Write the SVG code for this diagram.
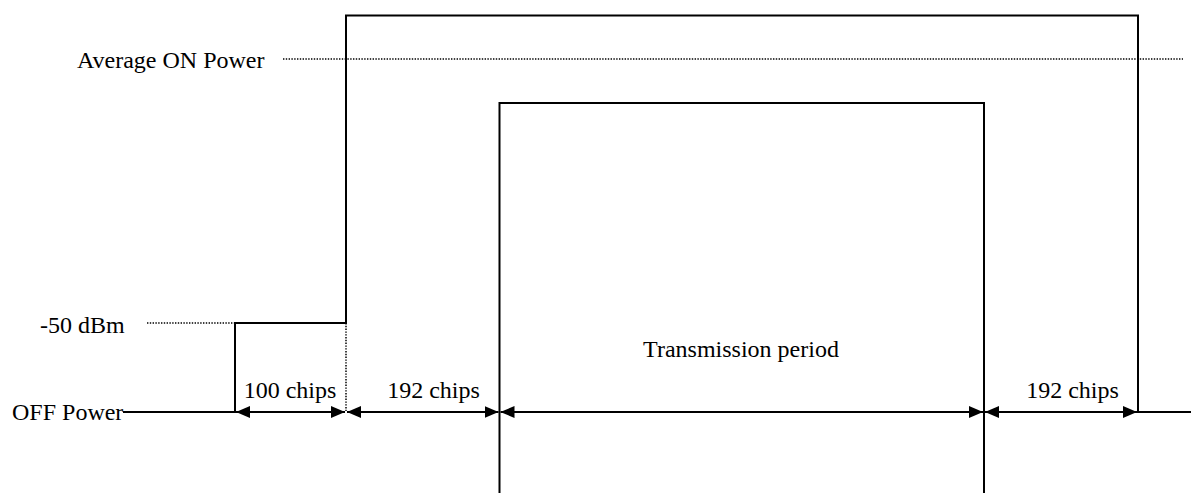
<svg xmlns="http://www.w3.org/2000/svg" width="1191" height="493" viewBox="0 0 1191 493">
<defs>
<style>
.ln{fill:none;stroke:#000;stroke-width:2}
.dot{fill:none;stroke:#000;stroke-width:1.5;stroke-dasharray:1.4 1.4}
.dim{fill:none;stroke:#000;stroke-width:2}
text{font-family:"Liberation Serif","Times New Roman",serif;font-size:24px;fill:#000}
</style>
<marker id="ah" viewBox="0 0 14 12" refX="14" refY="6" markerWidth="14" markerHeight="12" markerUnits="userSpaceOnUse" orient="auto-start-reverse">
<path d="M0,0 L14,6 L0,12 Z" fill="#000"/>
</marker>
</defs>
<rect width="1191" height="493" fill="#fff"/>
<g id="signal">
<path class="ln" d="M123,412 H235 V323 H346 V15.5 H1138 V412 H1191"/>
</g>
<g id="transmission-box">
<path class="ln" d="M499.5,493 V103 H984 V493"/>
</g>
<g id="reference-lines">
<line class="dot" x1="283" y1="59" x2="1183" y2="59"/>
<line class="dot" x1="147" y1="323" x2="235" y2="323"/>
<line class="dot" x1="346" y1="323" x2="346" y2="411"/>
</g>
<g id="labels">
<text x="77" y="68">Average ON Power</text>
<text x="40" y="333">-50 dBm</text>
<text x="12" y="420">OFF Power</text>
<text x="741" y="357" text-anchor="middle">Transmission period</text>
</g>
<g id="connectors">
<line class="dim" x1="236" y1="412" x2="345" y2="412" marker-start="url(#ah)" marker-end="url(#ah)"/>
<line class="dim" x1="347" y1="412" x2="498.5" y2="412" marker-start="url(#ah)" marker-end="url(#ah)"/>
<line class="dim" x1="500.5" y1="412" x2="983" y2="412" marker-start="url(#ah)" marker-end="url(#ah)"/>
<line class="dim" x1="985" y1="412" x2="1137" y2="412" marker-start="url(#ah)" marker-end="url(#ah)"/>
</g>
<g id="dimension-labels">
<text x="290" y="398" text-anchor="middle">100 chips</text>
<text x="433.5" y="398" text-anchor="middle">192 chips</text>
<text x="1072.5" y="398" text-anchor="middle">192 chips</text>
</g>
</svg>
